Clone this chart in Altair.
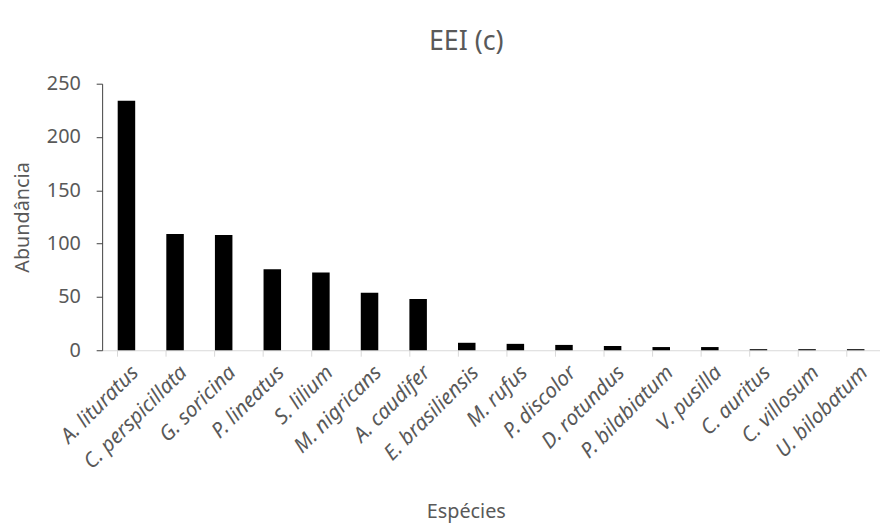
import altair as alt
import pandas as pd

species = ["A. lituratus", "C. perspicillata", "G. soricina", "P. lineatus", "S. lilium",
           "M. nigricans", "A. caudifer", "E. brasiliensis", "M. rufus", "P. discolor",
           "D. rotundus", "P. bilabiatum", "V. pusilla", "C. auritus", "C. villosum",
           "U. bilobatum"]
abundance = [234, 109, 108, 76, 73, 54, 48, 7, 6, 5, 4, 3, 3, 1, 1, 1]
y_ticks = [0, 50, 100, 150, 200, 250]

df = pd.DataFrame({"sp": species, "ab": abundance})
FONT = "Noto Sans"
GREY = "#595959"

chart = alt.Chart(df).mark_bar(color="black").encode(
    x=alt.X("sp:N", sort=species,
            scale=alt.Scale(paddingInner=0.64, paddingOuter=0.32),
            axis=alt.Axis(title="Espécies", labelAngle=315, labelAlign="right",
                          labelBaseline="middle", labelFontStyle="italic",
                          labelFontSize=21, labelColor=GREY, labelFont=FONT,
                          labelOffset=9, labelPadding=13,
                          bandPosition=0, tickColor="#d9d9d9", tickSize=6,
                          domainColor="#d9d9d9", domainWidth=1.2,
                          titleFont=FONT, titleFontSize=20, titleColor=GREY,
                          titleFontWeight="normal", titlePadding=30, titleX=367)),
    y=alt.Y("ab:Q", scale=alt.Scale(domain=[0, 250]),
            axis=alt.Axis(title="Abundância", values=y_ticks, grid=False,
                          labelFontSize=20, labelColor=GREY, labelFont=FONT,
                          domainColor="#404040", tickColor="#404040", tickSize=6,
                          labelPadding=16,
                          titleFont=FONT, titleFontSize=20, titleColor=GREY,
                          titleFontWeight="normal", titlePadding=14)),
).properties(
    width=785, height=269,
    title=alt.TitleParams("EEI (c)", font=FONT, fontSize=27, color=GREY,
                          fontWeight="normal", dx=-25, offset=18),
    autosize=alt.AutoSizeParams(type="none"),
    padding={"left": 95, "top": 74, "right": 0, "bottom": 178},
).configure_view(stroke=None)

chart.save("out.html", embed_options={"renderer": "svg", "actions": False})
